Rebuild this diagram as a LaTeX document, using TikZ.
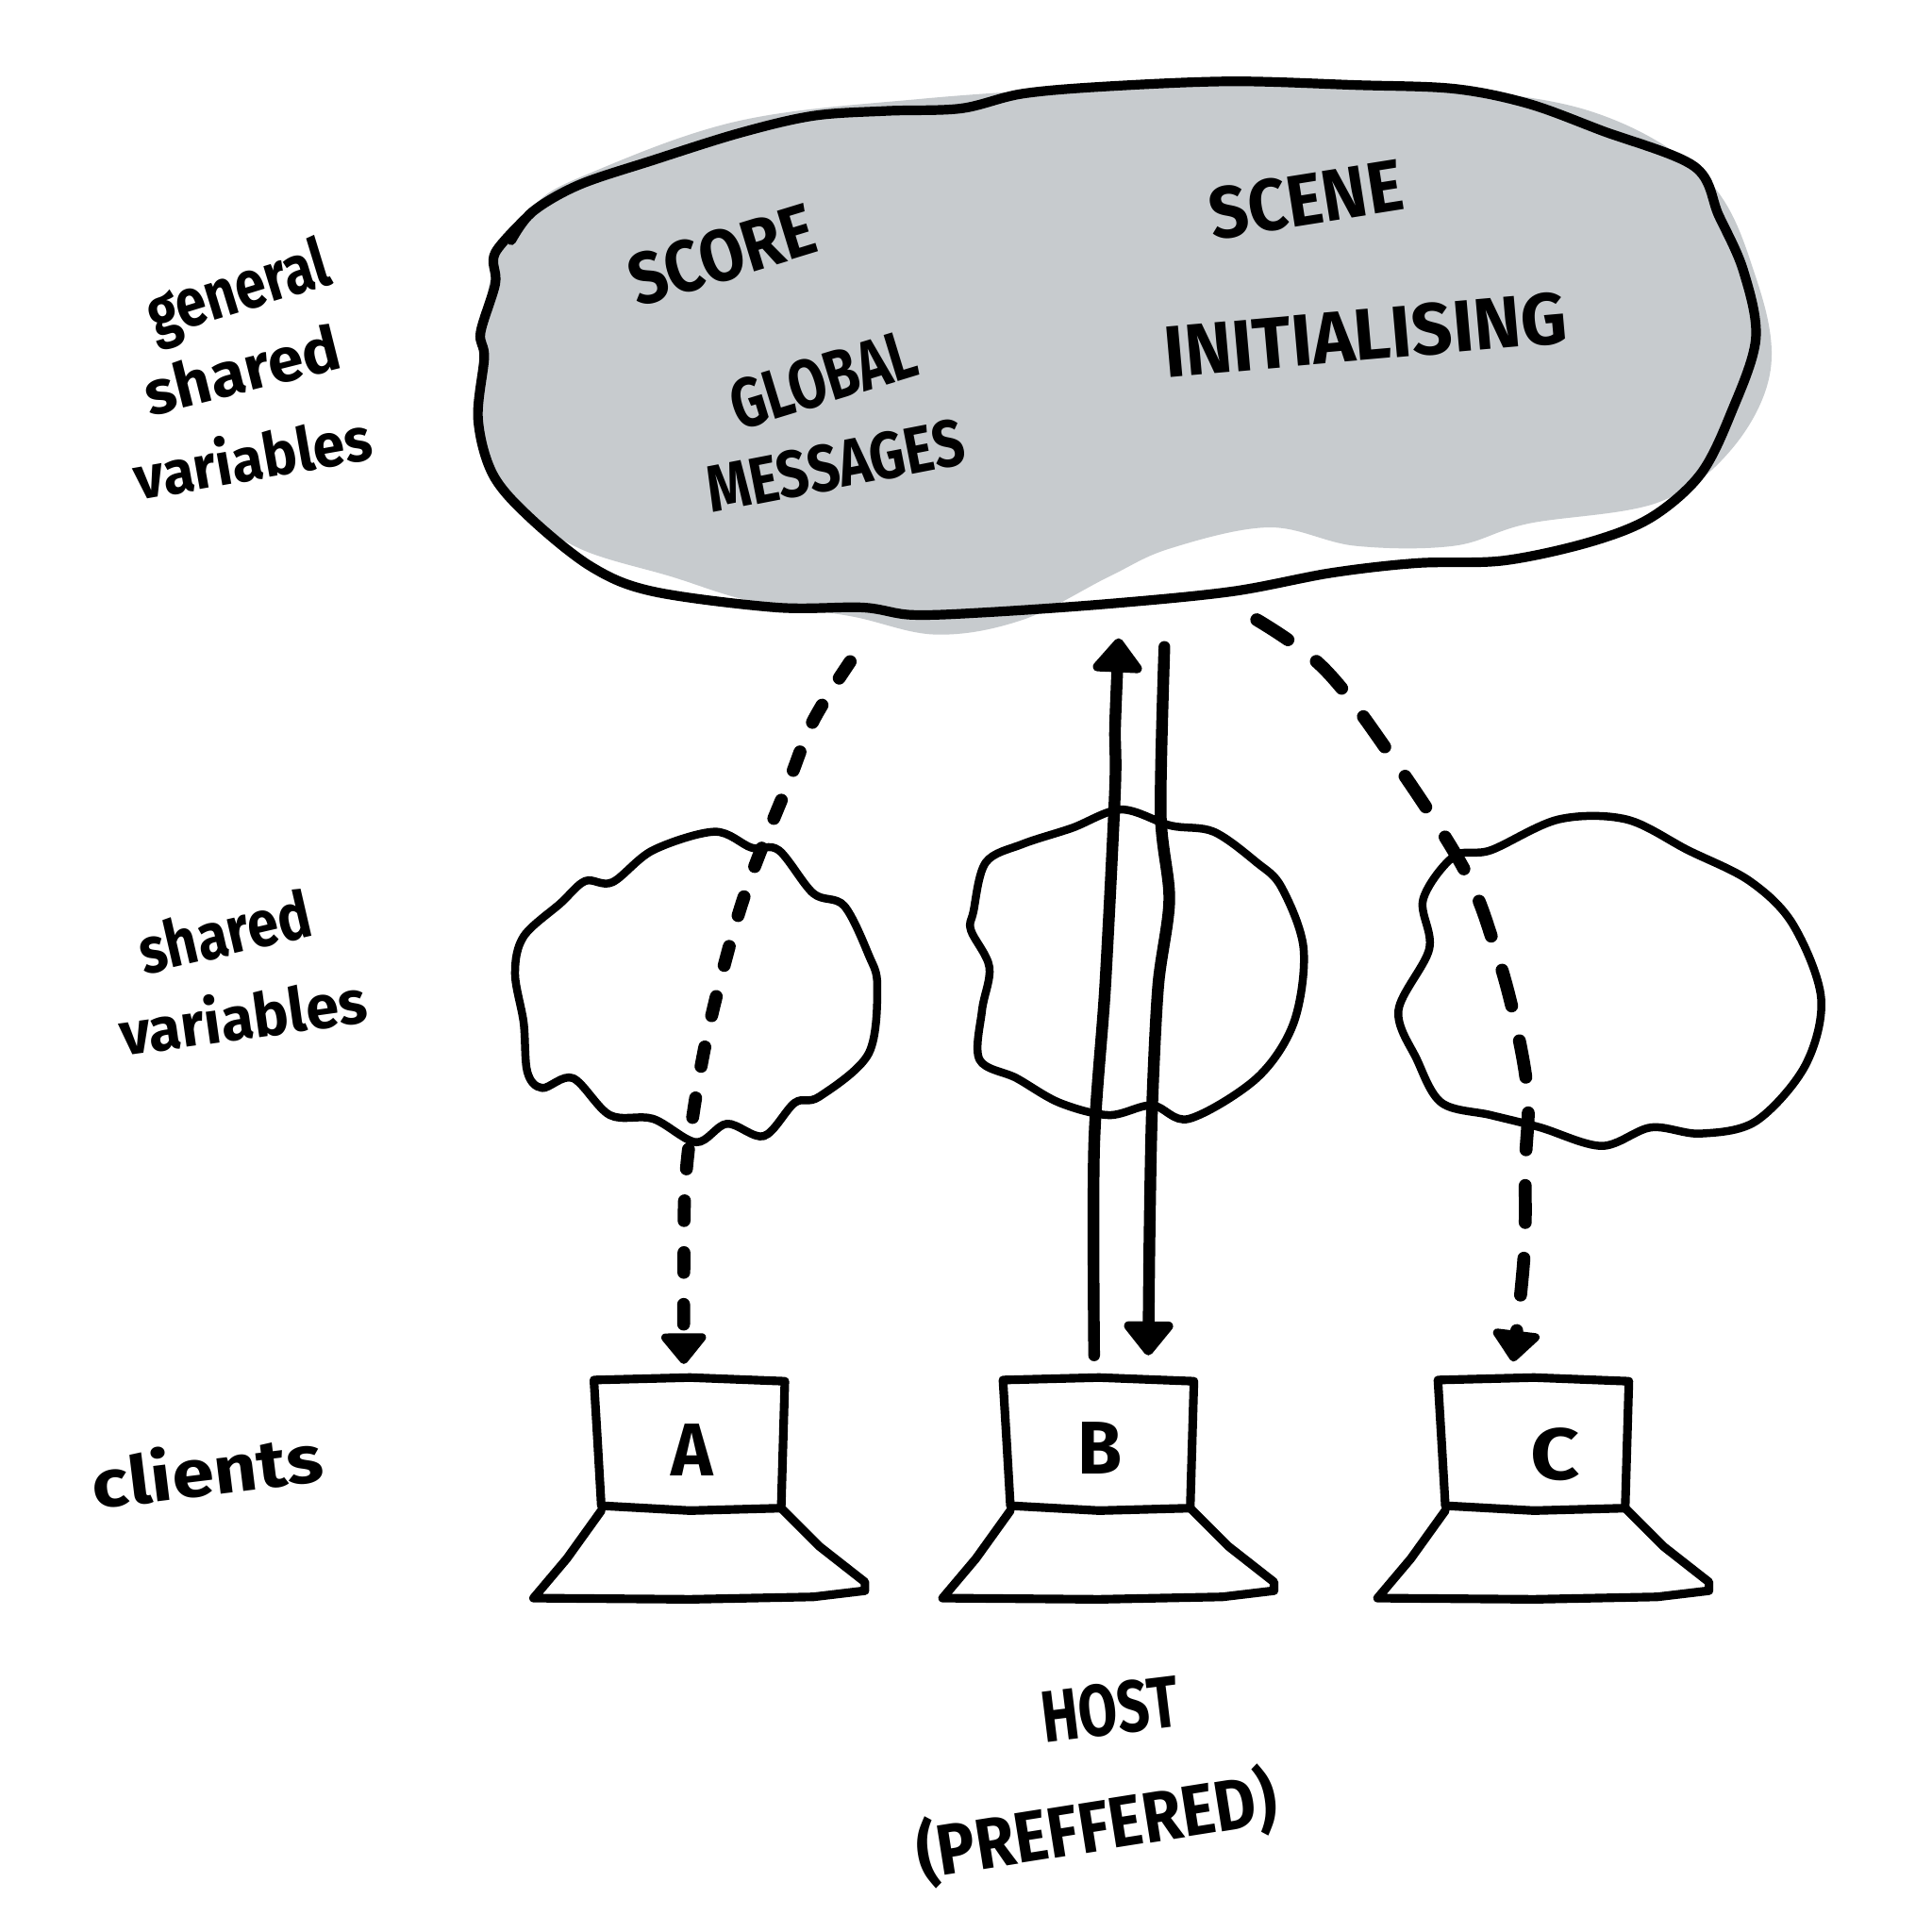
\documentclass[tikz,border=0pt]{standalone}
\usepackage{fontspec}
\usepackage{graphicx}
\setmainfont{Fira Sans}[BoldFont={Fira Sans Bold}]
\usetikzlibrary{arrows.meta}
\definecolor{blobgrey}{RGB}{199,203,206}
\newcommand{\hw}[3]{\resizebox{#1cm}{#2cm}{\bfseries #3}}
\tikzset{
  x=0.01cm,y=-0.01cm,
  hand/.style={inner sep=0pt,outer sep=0pt,text=black},
  bigline/.style={draw=black,line width=0.078cm,line join=round,line cap=round},
  cloudline/.style={draw=black,line width=0.065cm,line join=round},
  laptopline/.style={draw=black,line width=0.07cm,line join=round,line cap=round},
  solidarrow/.style={draw=black,line width=0.095cm,line cap=round,-{Triangle[length=0.3cm,width=0.46cm,round]}},
  dotarrow/.style={draw=black,line width=0.105cm,line cap=round,dash pattern=on 0.16cm off 0.26cm,-{Triangle[length=0.27cm,width=0.42cm,round]}},
  longarrow/.style={draw=black,line width=0.105cm,line cap=round,dash pattern=on 0.3cm off 0.29cm,-{Triangle[length=0.27cm,width=0.44cm,round]}},
}
\begin{document}
\begin{tikzpicture}
\useasboundingbox[fill=white] (0,0) rectangle (1568,1568);
% grey wash
\fill[blobgrey] plot[smooth cycle,tension=0.6] coordinates {(432,168)(480,140)(600,98)(750,80)(900,70)(1000,66)(1150,70)(1290,90)(1385,145)(1425,225)(1437,300)(1405,365)(1345,408)(1240,425)(1180,443)(1100,443)(1030,428)(950,445)(900,468)(830,503)(760,515)(690,500)(610,488)(545,468)(470,445)(420,410)(395,370)(390,300)(400,220)};
% big outline
\draw[bigline] plot[smooth,tension=0.55] coordinates {(415,195)(432,172)(470,150)(530,130)(600,108)(660,94)(720,90)(780,88)(830,76)(900,70)(1000,66)(1100,69)(1180,72)(1240,84)(1300,106)(1375,135)(1395,175)(1415,220)(1425,275)(1405,335)(1380,385)(1340,420)(1290,440)(1220,455)(1150,457)(1080,465)(1000,480)(900,490)(800,497)(740,499)(700,493)(630,493)(530,480)(480,460)(430,420)(400,385)(388,340)(393,290)(390,270)(402,230)(402,205)(432,172)};
% small clouds
\draw[cloudline] plot[smooth cycle,tension=0.55] coordinates {(455,733)(475,715)(497,716)(530,690)(580,675)(610,688)(632,690)(660,725)(685,735)(705,775)(712,800)(705,855)(665,890)(645,895)(620,922)(590,912)(565,927)(530,908)(495,905)(465,875)(440,883)(428,870)(425,830)(418,790)(425,760)};
\draw[cloudline] plot[smooth cycle,tension=0.55] coordinates {(790,740)(800,700)(830,685)(870,672)(910,657)(950,670)(985,675)(1020,700)(1040,720)(1058,770)(1050,830)(1020,875)(965,908)(935,897)(900,905)(860,895)(825,875)(795,860)(797,820)(803,785)(788,755)};
\draw[cloudline] plot[smooth cycle,tension=0.55] coordinates {(1155,730)(1180,695)(1210,690)(1265,665)(1320,665)(1370,690)(1420,715)(1455,750)(1478,810)(1465,865)(1425,910)(1380,920)(1340,915)(1300,930)(1250,915)(1210,905)(1170,895)(1150,860)(1135,820)(1160,770)};
% laptops
\foreach \dx/\n in {0/A,332/B,685/C}{
  \begin{scope}[xshift=\dx*0.01cm]
    \draw[laptopline] (482,1120) -- (560,1118) -- (637,1121) -- (634,1224) -- (560,1226) -- (488,1222) -- (485,1170) -- cycle;
    \draw[laptopline] (488,1226) -- (460,1265) -- (433,1297) -- (560,1298) -- (660,1296) -- (702,1291) -- (702,1284) -- (665,1255) -- (634,1224);
  \end{scope}
}
% connector ends
\coordinate (upper1) at (690,537);
\coordinate (lapA) at (555,1107);
\coordinate (lapBup) at (888,1100);
\coordinate (blobB) at (908,518);
\coordinate (blobBdown) at (945,525);
\coordinate (lapB) at (932,1100);
\coordinate (blobC) at (1020,503);
\coordinate (lapC) at (1228,1105);
\draw[dotarrow] plot[smooth,tension=0.6] coordinates {(upper1)(660,585)(640,635)(610,710)(590,775)(570,860)(557,950)(555,1030)(lapA)};
\draw[solidarrow] plot[smooth,tension=0.5] coordinates {(lapBup)(888,930)(897,800)(905,640)(905,590)(blobB)};
\draw[solidarrow] plot[smooth,tension=0.5] coordinates {(blobBdown)(942,660)(949,730)(940,800)(935,900)(933,1000)(lapB)};
\draw[longarrow] plot[smooth,tension=0.6] coordinates {(blobC)(1075,543)(1130,615)(1188,705)(1213,768)(1230,830)(1240,890)(1238,945)(1237,1018)(lapC)};
% texts
\node[hand,rotate=17] (tscore) at (586,207) {\hw{1.55}{0.42}{SCORE}};
\node[hand,rotate=9] (tscene) at (1060,162) {\hw{1.58}{0.42}{SCENE}};
\node[hand,rotate=5] (tinit) at (1108,272) {\hw{3.28}{0.42}{INITIALISING}};
\node[hand,rotate=17] (tglobal) at (668,308) {\hw{1.55}{0.4}{GLOBAL}};
\node[hand,rotate=11] (tmess) at (678,378) {\hw{2.12}{0.38}{MESSAGES}};
\node[hand,rotate=17] (tgen) at (194,238) {\hw{1.52}{0.42}{general}};
\node[hand,rotate=14] (tsh) at (196,300) {\hw{1.62}{0.38}{shared}};
\node[hand,rotate=10] (tvar) at (205,370) {\hw{1.95}{0.4}{variables}};
\node[hand,rotate=13] (tsh2) at (182,756) {\hw{1.42}{0.4}{shared}};
\node[hand,rotate=8] (tvar2) at (197,824) {\hw{2.02}{0.4}{variables}};
\node[hand,rotate=7] (tcl) at (168,1192) {\hw{1.88}{0.44}{clients}};
\node[hand] (lA) at (562,1177) {\hw{0.34}{0.42}{A}};
\node[hand] (lB) at (893,1175) {\hw{0.36}{0.42}{B}};
\node[hand] (lC) at (1262,1180) {\hw{0.4}{0.42}{C}};
\node[hand,rotate=7] (thost) at (901,1387) {\hw{1.12}{0.42}{HOST}};
\node[hand,rotate=9] (tpref) at (890,1482) {\hw{2.95}{0.5}{(PREFFERED)}};
\end{tikzpicture}
\end{document}
